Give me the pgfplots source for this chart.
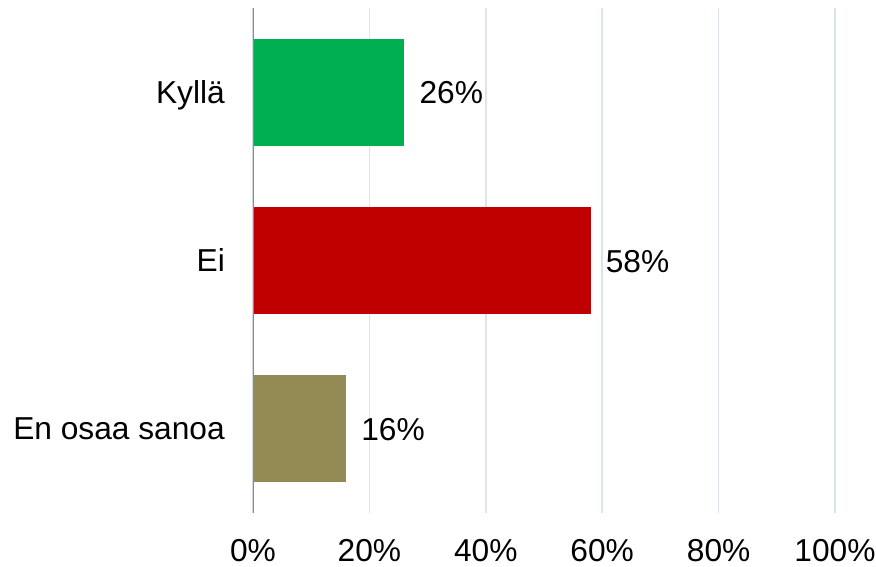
\documentclass[border=0pt]{standalone}
\usepackage{fontspec}
\setmainfont{Liberation Sans}
\usepackage{pgfplots}
\pgfplotsset{compat=1.18}
\definecolor{cgreen}{HTML}{00B050}
\definecolor{cred}{HTML}{C00000}
\definecolor{colive}{HTML}{948A54}
\definecolor{gridc}{HTML}{DCE4EE}
\definecolor{axc}{HTML}{8C8C8C}
\begin{document}
\fontsize{31.7}{37}\selectfont
\begin{tikzpicture}[font=\fontsize{31.7}{37}\selectfont]
\useasboundingbox (-253pt,-53pt) rectangle (623pt,513pt);
\begin{axis}[
  at={(0,0)}, anchor=south west,
  scale only axis, width=582pt, height=505pt,
  xmin=0, xmax=100, ymin=-0.5, ymax=2.5, y dir=reverse,
  enlargelimits=false,
  xbar, bar width=107pt, bar shift=0pt,
  xtick={0,20,40,60,80,100},
  xticklabels={0\%,20\%,40\%,60\%,80\%,100\%},
  ytick={0,1,2},
  yticklabels={Kyllä,Ei,En osaa sanoa},
  xmajorgrids,
  major grid style={color=gridc, line width=1.5pt},
  axis line style={draw=none},
  major tick length=0pt,
  /pgf/number format/assume math mode=true,
  xticklabel style={anchor=base, inner sep=0pt, yshift=-48pt},
  yticklabel style={anchor=base east, inner sep=0pt, xshift=-28pt, yshift=-11pt},
  point meta=explicit symbolic,
  nodes near coords,
  every node near coord/.append style={anchor=base west, inner sep=0pt, xshift=15pt, yshift=-11.5pt, text=black},
]
\addplot[fill=cgreen, draw=none] coordinates {(26,0) [26\%]};
\addplot[fill=cred, draw=none] coordinates {(58,1) [58\%]};
\addplot[fill=colive, draw=none] coordinates {(16,2) [16\%]};
\draw[axc, line width=2pt] (axis cs:0,-0.5) -- (axis cs:0,2.5);
\end{axis}
\end{tikzpicture}
\end{document}
